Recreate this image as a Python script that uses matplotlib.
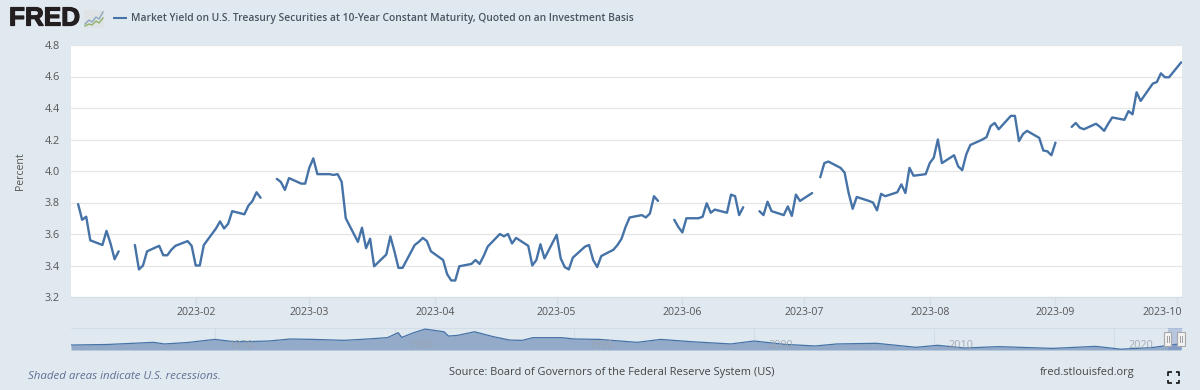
import matplotlib
matplotlib.use("Agg")
import matplotlib.pyplot as plt
import matplotlib.patheffects as pe
from matplotlib.transforms import ScaledTranslation
import pandas as pd
from matplotlib.patches import Rectangle

plt.rcParams['font.family'] = ['Open Sans', 'DejaVu Sans']
nan = float('nan')

TITLE = "Market Yield on U.S. Treasury Securities at 10-Year Constant Maturity, Quoted on an Investment Basis"
jan = [3.79,3.69,3.71,3.56,3.53,3.62,3.54,3.44,3.49,nan,3.53,3.375,3.40,3.49,3.525,3.465,3.465,3.50,3.525,3.555,3.525]
feb = [3.40,3.40,3.53,3.635,3.68,3.635,3.665,3.745,3.725,3.78,3.81,3.865,3.83,nan,3.95,3.93,3.88,3.955,3.92,3.92]
mar = [4.02,4.08,3.98,3.98,3.975,3.98,3.93,3.70,3.55,3.64,3.51,3.57,3.395,3.47,3.585,3.49,3.385,3.385,3.53,3.55,3.575,3.555,3.49]
apr = [3.435,3.345,3.305,3.305,3.395,3.41,3.435,3.41,3.46,3.52,3.60,3.585,3.60,3.54,3.575,3.525,3.40,3.435,3.535,3.445]
may = [3.595,3.445,3.39,3.375,3.45,3.52,3.53,3.435,3.39,3.46,3.50,3.53,3.57,3.645,3.705,3.72,3.705,3.73,3.84,3.81,nan,3.69,3.645]
jun = [3.61,3.70,3.70,3.71,3.795,3.735,3.755,3.735,3.85,3.84,3.72,3.77,nan,3.745,3.72,3.805,3.745,3.72,3.775,3.715,3.85,3.81]
jul = [3.86,nan,3.96,4.05,4.06,4.02,3.99,3.86,3.76,3.835,3.81,3.80,3.75,3.855,3.84,3.865,3.915,3.86,4.02,3.97,3.98]
aug = [4.05,4.085,4.20,4.05,4.10,4.03,4.005,4.105,4.165,4.20,4.215,4.285,4.305,4.265,4.35,4.35,4.19,4.235,4.255,4.21,4.13,4.125,4.10]
sep = [4.18,nan,4.28,4.305,4.275,4.265,4.30,4.28,4.255,4.30,4.34,4.325,4.38,4.36,4.50,4.445,4.555,4.565,4.62,4.595,4.595]
oct_ = [4.69]
yields = jan + feb + mar + apr + may + jun + jul + aug + sep + oct_
dates = pd.bdate_range("2023-01-03", "2023-10-02")

y_ticks = [3.2, 3.4, 3.6, 3.8, 4.0, 4.2, 4.4, 4.6, 4.8]
x_ticks = ["2023-02","2023-03","2023-04","2023-05","2023-06","2023-07","2023-08","2023-09","2023-10"]

nav_years = [1962,1964,1966.6,1967.2,1968.5,1970,1971,1971.7,1973,1974.2,1975.5,1977.2,1978.5,1979.6,
             1980.2,1980.4,1981,1981.7,1982.75,1983,1983.5,1984.45,1985.5,1986.4,1987.1,1987.7,1989.3,1990,
             1991.4,1993.5,1994.8,1996.5,1998.7,2000,2001.7,2003.4,2004.6,2006.8,2009,2010.2,2011.7,2013.6,
             2016.6,2019,2020.4,2021,2022.2,2023,2023.75]
nav_vals = [3.7,4.1,5.7,4.5,5.6,7.9,6.3,6.2,6.7,8.2,7.9,7.2,8.2,9.2,
            12.9,9.4,12.6,15.6,13.6,10.4,10.9,13.6,9.9,7.4,7.2,9.2,9.2,8.2,
            7.9,5.7,7.9,6.2,4.5,6.7,4.2,3.0,4.5,5.0,2.0,3.5,1.5,2.5,
            1.2,2.7,0.6,1.0,1.9,3.4,4.7]
nav_ticks = [1970, 1980, 1990, 2000, 2010, 2020]

BG = "#e1e9f0"
LINE = "#4572a7"
GRID = "#e6e6e6"
TXT = "#555555"

W, H = 1200, 390
fig = plt.figure(figsize=(12, 3.9), dpi=100, facecolor=BG)

def box(l, t, r, b):
    return [l / W, 1 - b / H, (r - l) / W, (b - t) / H]

# main plot
ax = fig.add_axes(box(71, 45, 1182, 297), facecolor="white")
t0 = pd.Timestamp("2023-02-01")
ax.plot(dates, yields, color=LINE, lw=1.7, solid_joinstyle="round", solid_capstyle="round", zorder=3)
ax.set_xlim(t0 + pd.Timedelta(days=-30.75), t0 + pd.Timedelta(days=243.2))
ax.set_ylim(3.2, 4.8)
ax.set_yticks(y_ticks)
ax.set_yticklabels([f"{v:.1f}" for v in y_ticks], fontsize=7.8, color=TXT)
tick_dates = [pd.Timestamp(s + "-01") for s in x_ticks]
ax.set_xticks(tick_dates)
ax.set_xticklabels(x_ticks, fontsize=7.6, color=TXT)
ax.tick_params(axis="y", length=0, pad=8)
ax.tick_params(axis="x", length=6, width=1, color="#d3dde8", pad=1.5)
ax.grid(axis="y", color=GRID, lw=0.9)
ax.set_axisbelow(True)
for s in ax.spines.values():
    s.set_visible(False)
ax.spines["bottom"].set_visible(True)
ax.spines["bottom"].set_color("#d3dde8")
ax.set_ylabel("Percent", fontsize=7.6, color=TXT, labelpad=0)
ax.yaxis.set_label_coords((26 - 71) / 1111, 0.5)
lab = ax.get_xticklabels()[-1]
lab.set_ha("right")
lab.set_transform(lab.get_transform() + ScaledTranslation(5 / 100, 0, fig.dpi_scale_trans))

# navigator
nav = fig.add_axes(box(71, 328, 1182, 350), facecolor=BG)
nav.fill_between(nav_years, nav_vals, 0, color="#93abc9", lw=0, zorder=2)
nav.plot(nav_years, nav_vals, color=LINE, lw=0.9, zorder=3)
nav.set_xlim(1962, 2023.8)
nav.set_ylim(0, 16.4)
nav.set_xticks([])
nav.set_yticks([])
for yr in nav_ticks:
    nav.axvline(yr, color="#d3dde8", lw=0.8, zorder=1)
    nav.text(yr + 0.8, 3.0, str(yr), fontsize=7.8, color="#9aa3ad", alpha=0.85, ha="left", va="center", zorder=4)
for k, s in nav.spines.items():
    s.set_visible(k == "top")
    s.set_color("#d3dde8")

# overlay in pixel coordinates
ov = fig.add_axes([0, 0, 1, 1], facecolor="none")
ov.set_xlim(0, W)
ov.set_ylim(H, 0)
ov.axis("off")
ov.add_patch(Rectangle((1167.5, 328), 14.5, 22, color="#6685c2", alpha=0.35, lw=0))
for hx in (1167.5, 1181):
    ov.add_patch(Rectangle((hx - 3.7, 332), 7.4, 14, fc="#f2f2f2", ec="#a8a8a8", lw=0.8, zorder=5))
    for dx in (-1, 1):
        ov.plot([hx + dx, hx + dx], [336, 342], color="#a0a0a0", lw=0.7, zorder=6)

# logo
logo = ov.text(9, 18.5, "FRED", fontsize=18.8, fontweight="bold", family="Liberation Sans", color="#231f20",
               ha="left", va="center")
logo.set_path_effects([pe.withStroke(linewidth=0.9, foreground="#231f20")])
ov.add_patch(Rectangle((84, 10), 20, 18, fc="#dfe3e5", lw=0))
ov.plot([85, 89, 92, 96, 99, 103], [24, 20, 22, 17, 19, 12], color="#8aa8c0", lw=1)
ov.plot([85, 89, 92, 96, 99, 103], [26, 24, 25, 21, 23, 18], color="#8fb26a", lw=1)

# legend
ov.plot([113, 127], [18, 18], color=LINE, lw=1.5, solid_capstyle="butt")
ov.text(131, 18, TITLE, fontsize=7.35, fontweight=600, color="#4a5563", ha="left", va="center")

# footer
ov.text(28, 376.5, "Shaded areas indicate U.S. recessions.", fontsize=8.25, style="italic", color="#5f6f94",
        ha="left", va="center")
ov.text(449, 372, "Source: Board of Governors of the Federal Reserve System (US)", fontsize=7.9, color="#444444",
        ha="left", va="center")
ov.text(1040, 372, "fred.stlouisfed.org", fontsize=7.95, color="#444444", ha="left", va="center")
# fullscreen icon
for cx, cy, sx, sy in [(1168, 372, 1, 1), (1179, 372, -1, 1), (1168, 383, 1, -1), (1179, 383, -1, -1)]:
    ov.plot([cx + 3.5 * sx, cx, cx], [cy, cy, cy + 3.5 * sy], color="#111111", lw=1.2, solid_capstyle="butt")

fig.savefig("out.png", dpi=100, facecolor=BG)
